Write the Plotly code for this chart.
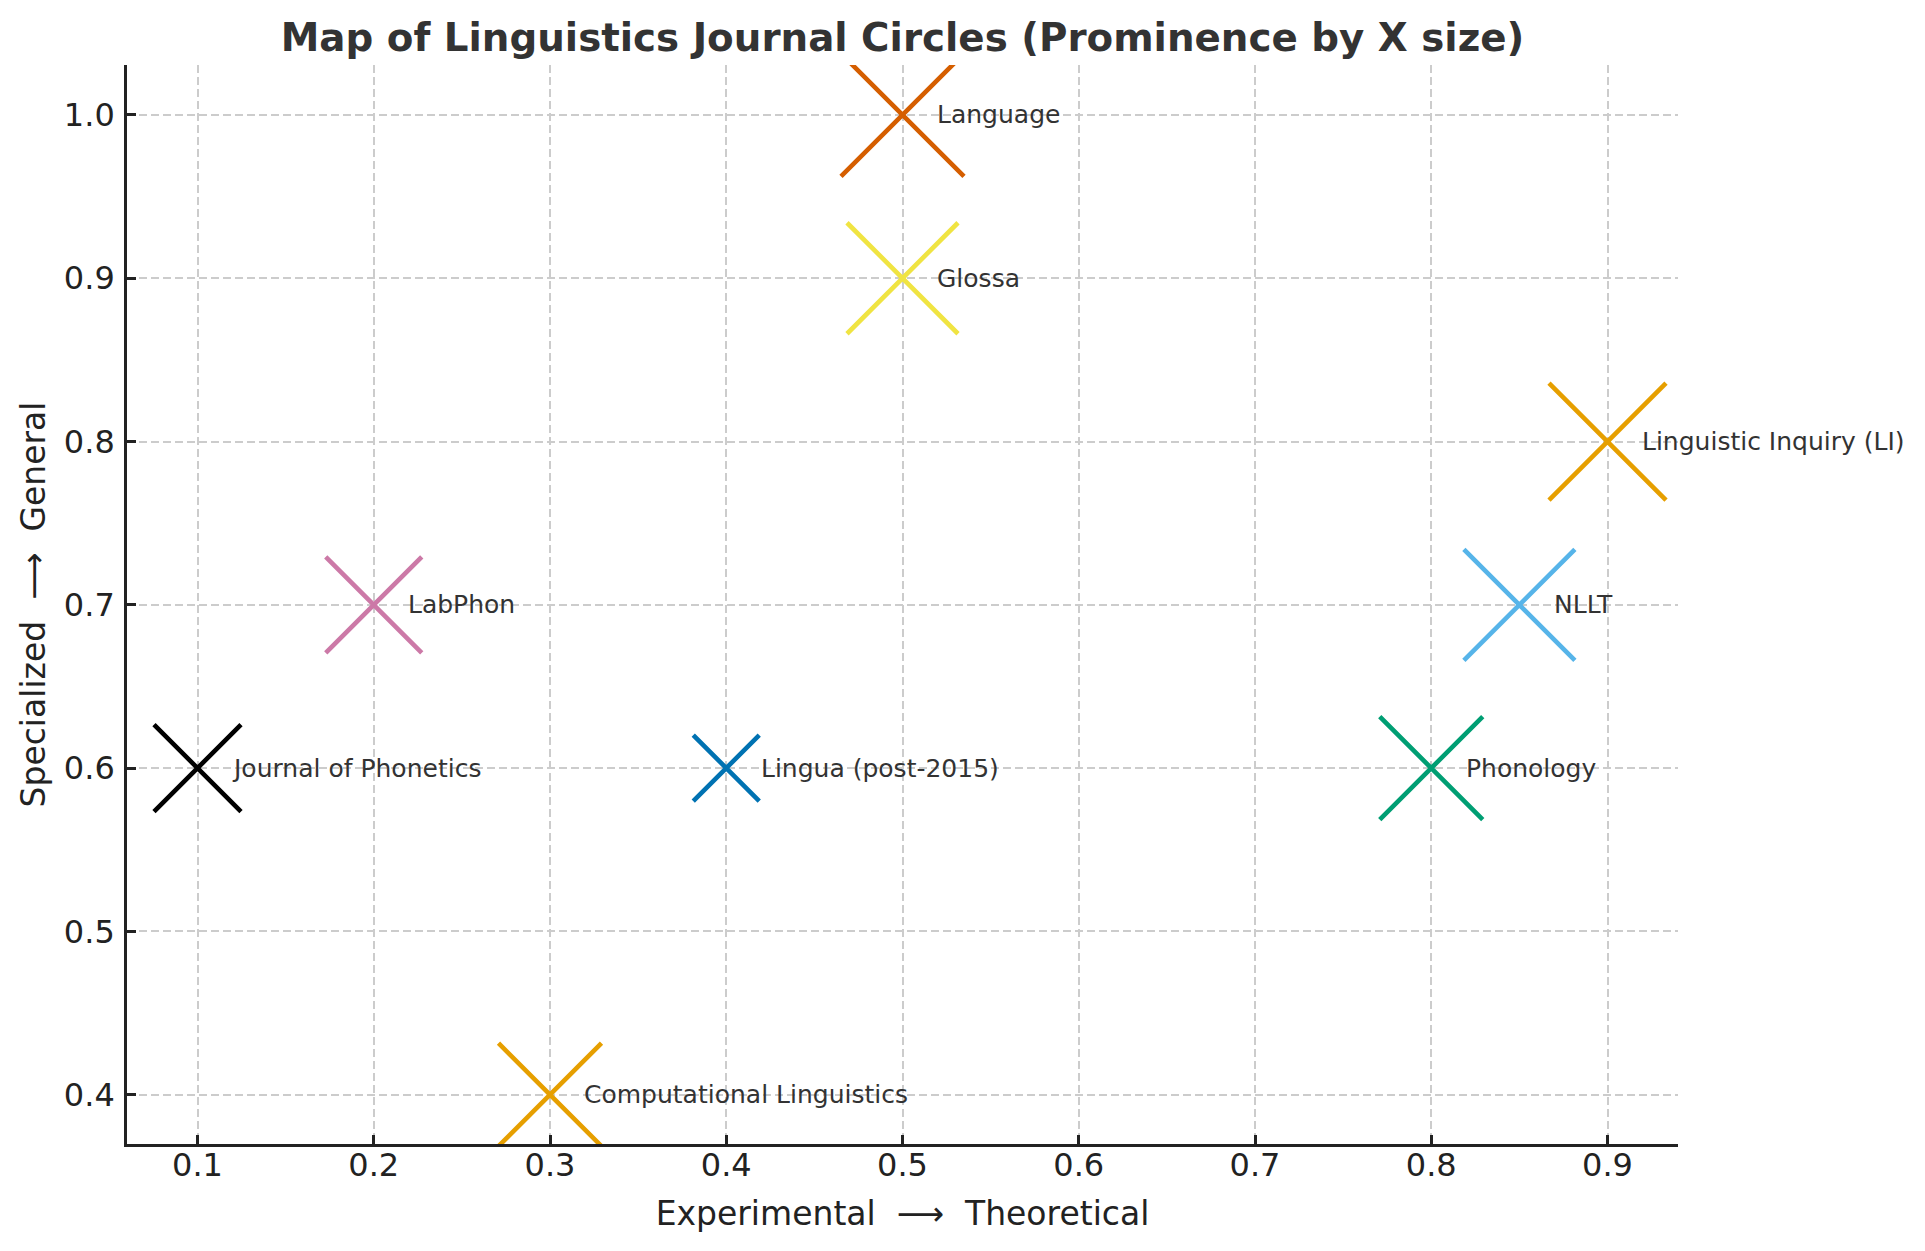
import plotly.graph_objects as go

journals = ["Journal of Phonetics", "LabPhon", "Computational Linguistics",
            "Lingua (post-2015)", "Language", "Glossa", "Phonology", "NLLT",
            "Linguistic Inquiry (LI)"]
theoretical = [0.1, 0.2, 0.3, 0.4, 0.5, 0.5, 0.8, 0.85, 0.9]
general = [0.6, 0.7, 0.4, 0.6, 1.0, 0.9, 0.6, 0.7, 0.8]
prominence = [87, 96, 103, 66, 123, 111, 103, 111, 117]
colors = ["#000000", "#CC79A7", "#E69F00", "#0072B2", "#D55E00",
          "#F0E442", "#009E73", "#56B4E9", "#E69F00"]
x_ticks = [0.1, 0.2, 0.3, 0.4, 0.5, 0.6, 0.7, 0.8, 0.9]
y_ticks = [0.4, 0.5, 0.6, 0.7, 0.8, 0.9, 1.0]

FONT = "DejaVu Sans"
NB = "\u00a0"

fig = go.Figure()
fig.add_trace(go.Scatter(
    x=theoretical, y=general, mode="markers",
    marker=dict(symbol="x-thin", size=prominence, color=colors, opacity=1,
                line=dict(color=colors, width=4.6)),
    cliponaxis=True, showlegend=False, hoverinfo="text", text=journals,
))

for name, xv, yv in zip(journals, theoretical, general):
    fig.add_annotation(x=xv + 0.02, y=yv, xref="x", yref="y", text=name,
                       showarrow=False, xanchor="left", yanchor="middle",
                       xshift=-3,
                       font=dict(family=FONT, size=25, color="#333333"))

fig.update_layout(
    width=1925, height=1251,
    margin=dict(l=127, r=247, t=65, b=107, pad=0),
    paper_bgcolor="white", plot_bgcolor="white",
    title=dict(text="Map of Linguistics Journal Circles (Prominence by X size)",
               x=(127 + 1678) / 2 / 1925, xanchor="center",
               y=1 - 37 / 1251, yanchor="middle",
               font=dict(family=FONT, size=38.8, color="#333333", weight="bold")),
    font=dict(family=FONT, color="#222222"),
)
fig.update_xaxes(
    range=[0.06, 0.94], tickvals=x_ticks, ticktext=[f"{v:.1f}" for v in x_ticks],
    showline=True, linecolor="#222222", linewidth=2.7, mirror=False,
    ticks="inside", ticklen=9, tickwidth=2.5, tickcolor="#222222",
    ticklabelstandoff=-9,
    tickfont=dict(family=FONT, size=32, color="#222222"),
    showgrid=True, gridcolor="#cccccc", gridwidth=1.6, griddash="8px,4px",
    zeroline=False,
    title=dict(text="Experimental" + NB + " ⟶ " + NB + "Theoretical", standoff=19,
               font=dict(family=FONT, size=33, color="#222222")),
)
fig.update_yaxes(
    range=[0.3698, 1.0306], tickvals=y_ticks, ticktext=[f"{v:.1f}" for v in y_ticks],
    showline=True, linecolor="#222222", linewidth=2.7, mirror=False,
    ticks="inside", ticklen=9, tickwidth=2.5, tickcolor="#222222",
    ticklabelstandoff=3,
    tickfont=dict(family=FONT, size=32, color="#222222"),
    showgrid=True, gridcolor="#cccccc", gridwidth=1.6, griddash="8px,4px",
    zeroline=False,
    title=dict(text="Specialized" + NB + " ⟶ " + NB + "General", standoff=9,
               font=dict(family=FONT, size=33, color="#222222")),
)

fig.write_html("out.html", config={"displayModeBar": False},
               post_script="document.body.style.margin='0px';")
